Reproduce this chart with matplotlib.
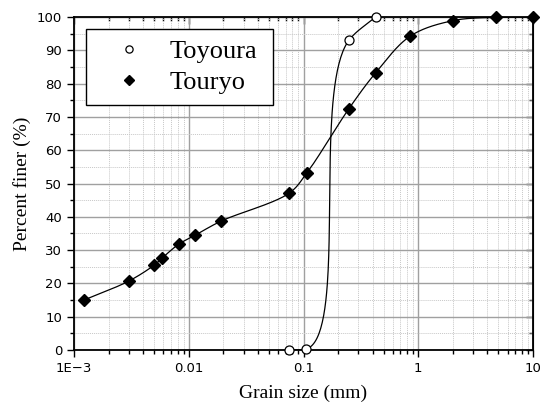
import numpy as np
import matplotlib.pyplot as plt
from matplotlib.ticker import LogLocator, MultipleLocator, FixedLocator, FixedFormatter, NullFormatter

# grain size (mm) and percent finer for the two soils
toyoura_d = [0.0754, 0.106, 0.250, 0.425]
toyoura_p = [0.0, 0.3, 93.1, 100.0]

touryo_d = [0.00122, 0.0030, 0.0050, 0.00585, 0.0082, 0.0114, 0.0191,
            0.0749, 0.107, 0.249, 0.427, 0.855, 2.0, 4.75, 10.0]
touryo_p = [15.0, 20.7, 25.5, 27.6, 31.8, 34.5, 38.7,
            47.1, 53.2, 72.5, 83.3, 94.3, 98.9, 99.9, 100.0]

xtick_vals = [1e-3, 1e-2, 1e-1, 1, 10]
xtick_text = ["1E\u22123", "0.01", "0.1", "1", "10"]

SX, SY = 115.0, 3.33   # rough screen scale: px per decade, px per percent


def catmull_rom(d, p, num=80, alpha=0.5):
    # Catmull-Rom through the points, in (log d, p) screen space
    pts = np.column_stack([np.log10(d) * SX, np.asarray(p) * SY])
    pts = np.vstack([2 * pts[0] - pts[1], pts, 2 * pts[-1] - pts[-2]])
    out = []
    for i in range(1, len(pts) - 2):
        p0, p1, p2, p3 = pts[i - 1], pts[i], pts[i + 1], pts[i + 2]
        t0 = 0.0
        t1 = t0 + np.linalg.norm(p1 - p0) ** alpha
        t2 = t1 + np.linalg.norm(p2 - p1) ** alpha
        t3 = t2 + np.linalg.norm(p3 - p2) ** alpha
        t = np.linspace(t1, t2, num)[:, None]
        a1 = (t1 - t) / (t1 - t0) * p0 + (t - t0) / (t1 - t0) * p1
        a2 = (t2 - t) / (t2 - t1) * p1 + (t - t1) / (t2 - t1) * p2
        a3 = (t3 - t) / (t3 - t2) * p2 + (t - t2) / (t3 - t2) * p3
        b1 = (t2 - t) / (t2 - t0) * a1 + (t - t0) / (t2 - t0) * a2
        b2 = (t3 - t) / (t3 - t1) * a2 + (t - t1) / (t3 - t1) * a3
        c = (t2 - t) / (t2 - t1) * b1 + (t - t1) / (t2 - t1) * b2
        out.append(c)
    c = np.vstack(out)
    return 10 ** (c[:, 0] / SX), c[:, 1] / SY


fig = plt.figure(figsize=(5.47, 4.07), dpi=100)
ax = fig.add_axes([0.1353, 0.140, 0.8391, 0.8182])

ax.set_xscale("log")
ax.set_xlim(1e-3, 10)
ax.set_ylim(0, 100)

cx, cy = catmull_rom(toyoura_d, toyoura_p, alpha=0.72)
ax.plot(cx, cy, color="black", lw=0.9, zorder=3)
cx, cy = catmull_rom(touryo_d, touryo_p)
ax.plot(cx, cy, color="black", lw=0.9, zorder=3)

ax.plot(toyoura_d, toyoura_p, ls="none", marker="o", ms=6.5, mfc="white",
        mec="black", mew=0.9, label="Toyoura", zorder=4, clip_on=False)
ax.plot(touryo_d, touryo_p, ls="none", marker="D", ms=6, mfc="black",
        mec="black", label="Touryo", zorder=4, clip_on=False)

# grid
ax.xaxis.set_major_locator(FixedLocator(xtick_vals))
ax.xaxis.set_major_formatter(FixedFormatter(xtick_text))
ax.xaxis.set_minor_locator(LogLocator(base=10, subs=np.arange(2, 10)))
ax.xaxis.set_minor_formatter(NullFormatter())
ax.yaxis.set_major_locator(MultipleLocator(10))
ax.yaxis.set_minor_locator(MultipleLocator(5))
ax.grid(True, which="major", color="#a0a0a0", lw=1.0, ls="-")
ax.grid(True, which="minor", color="#c8c8c8", lw=0.7, ls=(0, (1, 1)))
ax.set_axisbelow(True)

for sp in ax.spines.values():
    sp.set_linewidth(1.3)
ax.tick_params(which="both", direction="out", labelsize=9.5, width=1.0,
               top=False, right=False)
ax.tick_params(which="major", length=5)
ax.tick_params(which="minor", length=3)
for lab in ax.get_xticklabels() + ax.get_yticklabels():
    lab.set_family("DejaVu Sans")

# inward ticks on top and right
ax2 = ax.secondary_xaxis("top")
ax2.xaxis.set_major_locator(FixedLocator(xtick_vals))
ax2.xaxis.set_minor_locator(LogLocator(base=10, subs=np.arange(2, 10)))
ax2.tick_params(which="both", direction="in", labeltop=False, width=1.0)
ax2.tick_params(which="major", length=5)
ax2.tick_params(which="minor", length=3)
ax3 = ax.secondary_yaxis("right")
ax3.yaxis.set_major_locator(MultipleLocator(10))
ax3.yaxis.set_minor_locator(MultipleLocator(5))
ax3.tick_params(which="both", direction="in", labelright=False, width=1.0)
ax3.tick_params(which="major", length=5)
ax3.tick_params(which="minor", length=3)

ax.set_xlabel("Grain size (mm)", family="Liberation Serif", fontsize=14, labelpad=7)
ax.set_ylabel("Percent finer (%)", family="Liberation Serif", fontsize=14, labelpad=4)

leg = ax.legend(loc="upper left", bbox_to_anchor=(0.0261, 0.0, 0.4074, 0.964),
                mode="expand", frameon=True, fancybox=False, edgecolor="black",
                framealpha=1, prop={"family": "Liberation Serif", "size": 19},
                markerscale=0.8, handletextpad=0.33, borderpad=0.4,
                labelspacing=0.3, handlelength=2.45, borderaxespad=0)
leg.get_frame().set_linewidth(1.0)

fig.savefig("out.png", dpi=100)
